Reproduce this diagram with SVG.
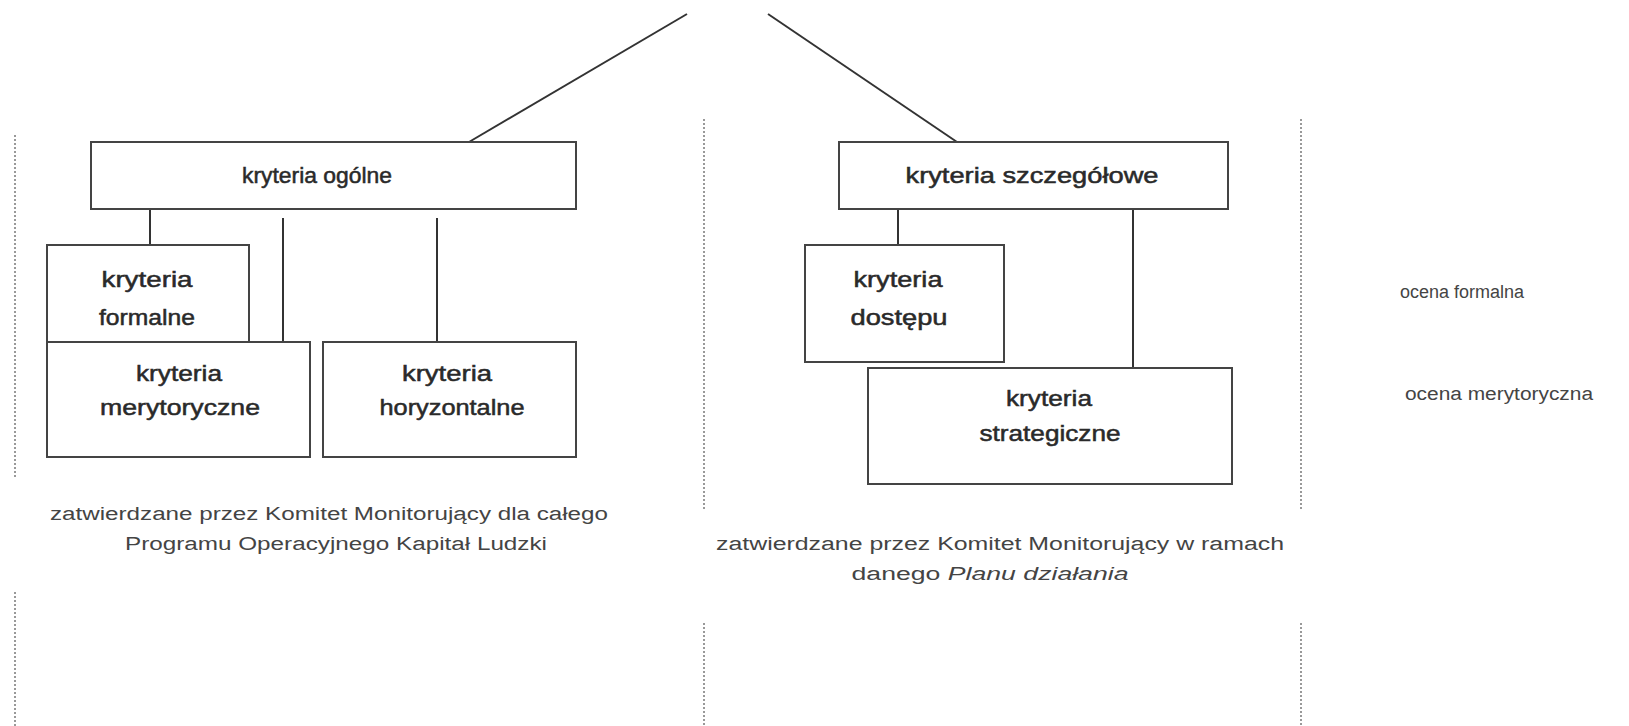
<svg xmlns="http://www.w3.org/2000/svg" width="1629" height="726" viewBox="0 0 1629 726">
<style>
.box{fill:#fff;stroke:#444;stroke-width:2}
.lbl{font-family:"Liberation Sans",Arial,sans-serif;font-size:22px;fill:#2a2a2a;stroke:#2a2a2a;stroke-width:0.5;text-anchor:middle}
.cap{font-family:"Liberation Sans",Arial,sans-serif;font-size:18px;fill:#444;text-anchor:middle}
.side{font-family:"Liberation Sans",Arial,sans-serif;font-size:18px;fill:#444;text-anchor:start}
.con{stroke:#333;stroke-width:2;fill:none}
.sep{stroke:#999;stroke-width:2;stroke-dasharray:2 2;fill:none}
</style>
<rect width="1629" height="726" fill="#fff"/>
<g id="separators">
<line class="sep" x1="15" y1="135" x2="15" y2="478"/>
<line class="sep" x1="15" y1="592" x2="15" y2="726"/>
<line class="sep" x1="704" y1="119" x2="704" y2="509"/>
<line class="sep" x1="704" y1="623" x2="704" y2="726"/>
<line class="sep" x1="1301" y1="119" x2="1301" y2="509"/>
<line class="sep" x1="1301" y1="623" x2="1301" y2="726"/>
</g>
<g id="connectors">
<line class="con" x1="687" y1="14" x2="469" y2="142"/>
<line class="con" x1="768" y1="14" x2="957" y2="142"/>
<line class="con" x1="150" y1="187" x2="150" y2="245"/>
<line class="con" x1="283" y1="218" x2="283" y2="342"/>
<line class="con" x1="437" y1="218" x2="437" y2="342"/>
<line class="con" x1="898" y1="189" x2="898" y2="245"/>
<line class="con" x1="1133" y1="188" x2="1133" y2="368"/>
</g>
<g id="kryteria-ogolne">
<rect class="box" x="91" y="142" width="485" height="67"/>
<text class="lbl" x="317" y="183" textLength="150" lengthAdjust="spacingAndGlyphs">kryteria ogólne</text>
</g>
<g id="kryteria-formalne">
<rect class="box" x="47" y="245" width="202" height="97"/>
<text class="lbl" x="147" y="287" textLength="91" lengthAdjust="spacingAndGlyphs">kryteria</text>
<text class="lbl" x="147" y="325" textLength="96" lengthAdjust="spacingAndGlyphs">formalne</text>
</g>
<g id="kryteria-merytoryczne">
<rect class="box" x="47" y="342" width="263" height="115"/>
<text class="lbl" x="179" y="381" textLength="86" lengthAdjust="spacingAndGlyphs">kryteria</text>
<text class="lbl" x="180" y="415" textLength="160" lengthAdjust="spacingAndGlyphs">merytoryczne</text>
</g>
<g id="kryteria-horyzontalne">
<rect class="box" x="323" y="342" width="253" height="115"/>
<text class="lbl" x="447" y="381" textLength="90" lengthAdjust="spacingAndGlyphs">kryteria</text>
<text class="lbl" x="452" y="415" textLength="145" lengthAdjust="spacingAndGlyphs">horyzontalne</text>
</g>
<g id="kryteria-szczegolowe">
<rect class="box" x="839" y="142" width="389" height="67"/>
<text class="lbl" x="1032" y="183" textLength="253" lengthAdjust="spacingAndGlyphs">kryteria szczegółowe</text>
</g>
<g id="kryteria-dostepu">
<rect class="box" x="805" y="245" width="199" height="117"/>
<text class="lbl" x="898" y="287" textLength="89" lengthAdjust="spacingAndGlyphs">kryteria</text>
<text class="lbl" x="899" y="325" textLength="97" lengthAdjust="spacingAndGlyphs">dostępu</text>
</g>
<g id="kryteria-strategiczne">
<rect class="box" x="868" y="368" width="364" height="116"/>
<text class="lbl" x="1049" y="406" textLength="86" lengthAdjust="spacingAndGlyphs">kryteria</text>
<text class="lbl" x="1050" y="441" textLength="141" lengthAdjust="spacingAndGlyphs">strategiczne</text>
</g>
<g id="caption-left">
<text class="cap" x="329" y="520" textLength="558" lengthAdjust="spacingAndGlyphs">zatwierdzane przez Komitet Monitorujący dla całego</text>
<text class="cap" x="336" y="550" textLength="422" lengthAdjust="spacingAndGlyphs">Programu Operacyjnego Kapitał Ludzki</text>
</g>
<g id="caption-right">
<text class="cap" x="1000" y="550" textLength="568" lengthAdjust="spacingAndGlyphs">zatwierdzane przez Komitet Monitorujący w ramach</text>
<text class="cap" x="990" y="580" textLength="277" lengthAdjust="spacingAndGlyphs">danego <tspan font-style="italic">Planu działania</tspan></text>
</g>
<g id="ocena-formalna">
<text class="side" x="1400" y="298" textLength="124" lengthAdjust="spacingAndGlyphs">ocena formalna</text>
</g>
<g id="ocena-merytoryczna">
<text class="side" x="1405" y="400" textLength="188" lengthAdjust="spacingAndGlyphs">ocena merytoryczna</text>
</g>
</svg>
